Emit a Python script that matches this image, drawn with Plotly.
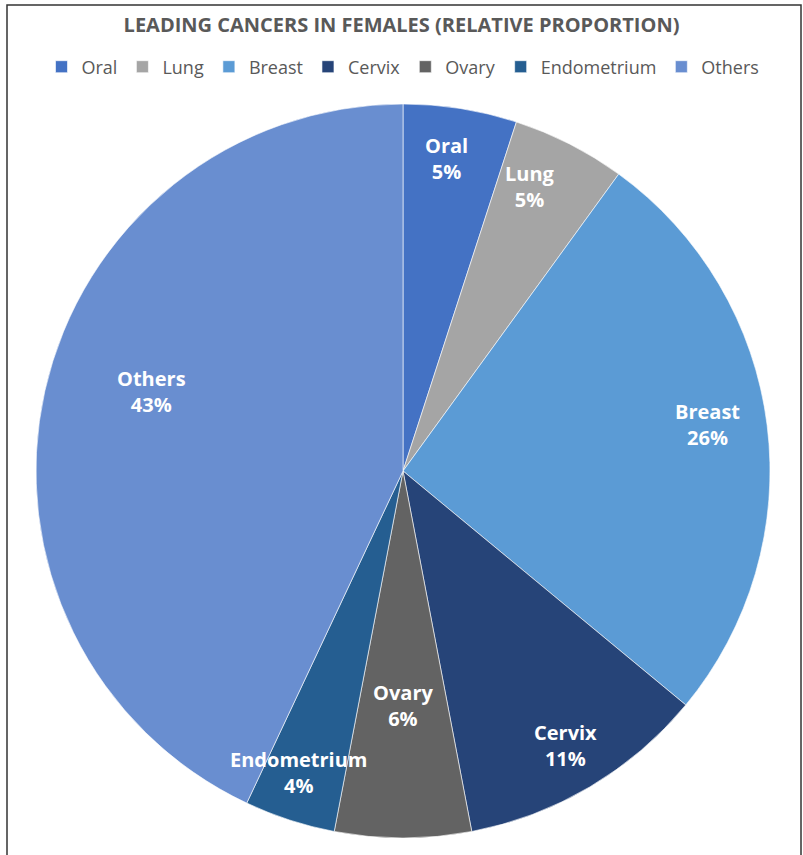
import math
import plotly.graph_objects as go

labels = ["Oral", "Lung", "Breast", "Cervix", "Ovary", "Endometrium", "Others"]
values = [5, 5, 26, 11, 6, 4, 43]
colors = ["#4472C4", "#A5A5A5", "#5B9BD5", "#264478", "#636363", "#255E91", "#698ED0"]
title = "LEADING CANCERS IN FEMALES (RELATIVE PROPORTION)"
# radial placement of each data label (fraction of radius), like Excel "best fit"
label_radius = [0.86, 0.85, 0.84, 0.87, 0.64, 0.87, 0.72]
label_angle_shift = [-1.0, -3.0, -1.5, 0.0, 0.0, 1.0, 5.0]

W, H = 803, 855
ml, mr, mt, mb = 36, 33, 103, 16
pw, ph = W - ml - mr, H - mt - mb
R = min(pw, ph) / 2

fig = go.Figure(go.Pie(
    labels=labels, values=values, sort=False, direction="clockwise", rotation=0,
    marker=dict(colors=colors, line=dict(color="rgba(255,255,255,0.6)", width=1)),
    textinfo="none",
    hoverinfo="label+percent",
))

def px_x(x):
    return (x - ml) / pw

def px_y(y):
    return 1 - (y - mt) / ph

total = sum(values)
annotations = []
cum = 0
for lab, v, fr, sh in zip(labels, values, label_radius, label_angle_shift):
    mid = (cum + v / 2) / total * 360 + sh
    cum += v
    th = math.radians(mid)
    x = 0.5 + fr * R * math.sin(th) / pw
    y = 0.5 + fr * R * math.cos(th) / ph
    pct = round(v / total * 100)
    annotations.append(dict(
        x=x, y=y, xref="paper", yref="paper", showarrow=False,
        text="<b>%s<br>%d%%</b>" % (lab, pct), align="center",
        font=dict(family="Open Sans", size=20, color="white"),
        xanchor="center", yanchor="middle",
    ))

fig.update_layout(
    width=W, height=H,
    margin=dict(l=ml, r=mr, t=mt, b=mb),
    paper_bgcolor="white", plot_bgcolor="white",
    title=dict(text="<b>" + title + "</b>", x=0.5, xanchor="center", y=1 - 25 / H, yanchor="middle",
               font=dict(family="Open Sans", size=20, color="#595959")),
    legend=dict(orientation="h", x=0.5, xanchor="center", y=px_y(67), yanchor="middle",
                font=dict(family="Open Sans", size=18, color="#595959"), traceorder="normal",
                itemclick=False),
    annotations=annotations,
    shapes=[dict(type="rect", xref="paper", yref="paper",
                 x0=px_x(7), x1=px_x(801), y0=px_y(870), y1=px_y(5),
                 line=dict(color="#333333", width=1.5), fillcolor="rgba(0,0,0,0)", layer="below")],
)

fig.write_html("out.html")
